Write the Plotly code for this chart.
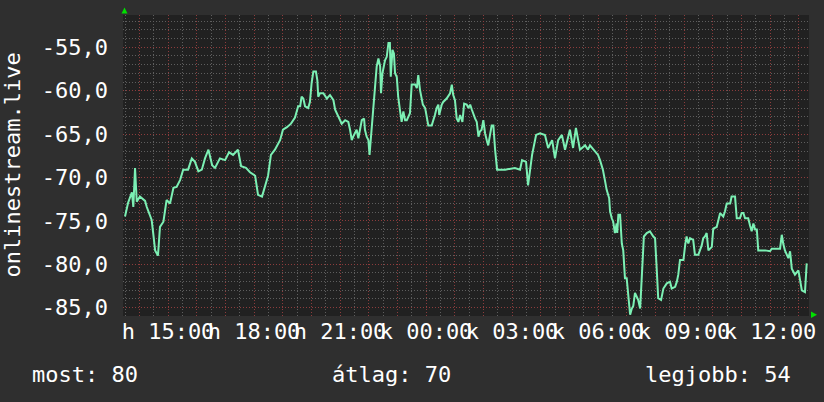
import plotly.graph_objects as go

# ---- data (time in hours since day-1 00:00, value in dBm-like units) ----
hours = [13.50, 13.61, 13.74, 13.79, 13.85, 13.91, 14.02, 14.20, 14.26, 14.37,
         14.43, 14.49, 14.55, 14.65, 14.72, 14.84, 14.95, 15.07, 15.19, 15.30,
         15.42, 15.53, 15.70, 15.83, 15.94, 16.06, 16.18, 16.29, 16.41, 16.54,
         16.64, 16.81, 16.99, 17.13, 17.27, 17.44, 17.55, 17.72, 17.86, 18.04,
         18.14, 18.28, 18.38, 18.49, 18.59, 18.73, 18.91, 19.01, 19.15, 19.29,
         19.43, 19.54, 19.61, 19.66, 19.72, 19.78, 19.89, 19.95, 20.01, 20.07,
         20.16, 20.21, 20.24, 20.30, 20.42, 20.54, 20.65, 20.77, 20.83, 20.89,
         20.94, 21.00, 21.06, 21.18, 21.29, 21.35, 21.41, 21.46, 21.58, 21.64,
         21.70, 21.76, 21.84, 21.87, 21.93, 21.99, 22.03, 22.11, 22.16, 22.22,
         22.28, 22.34, 22.40, 22.43, 22.48, 22.57, 22.63, 22.69, 22.74, 22.77,
         22.83, 22.88, 22.92, 22.98, 23.03, 23.09, 23.15, 23.21, 23.27, 23.33,
         23.44, 23.50, 23.62, 23.68, 23.73, 23.79, 23.89, 23.97, 24.02, 24.08,
         24.20, 24.26, 24.31, 24.37, 24.43, 24.46, 24.55, 24.60, 24.72, 24.84,
         24.90, 24.95, 25.01, 25.07, 25.13, 25.19, 25.27, 25.33, 25.42, 25.48,
         25.54, 25.60, 25.65, 25.71, 25.77, 25.83, 25.88, 25.94, 26.00, 26.06,
         26.12, 26.17, 26.29, 26.35, 26.41, 26.48, 26.76, 27.10, 27.28, 27.35,
         27.49, 27.56, 27.70, 27.84, 27.98, 28.15, 28.26, 28.40, 28.50, 28.61,
         28.74, 28.85, 29.02, 29.13, 29.23, 29.37, 29.55, 29.65, 29.72, 29.86,
         30.00, 30.07, 30.17, 30.24, 30.30, 30.39, 30.42, 30.48, 30.53, 30.59,
         30.65, 30.67, 30.71, 30.77, 30.83, 30.88, 30.94, 31.00, 31.06, 31.12,
         31.18, 31.23, 31.29, 31.35, 31.40, 31.47, 31.52, 31.56, 31.60, 31.70,
         31.81, 31.93, 31.99, 32.05, 32.10, 32.20, 32.28, 32.40, 32.51, 32.57,
         32.69, 32.75, 32.80, 32.86, 32.98, 33.04, 33.09, 33.15, 33.21, 33.32,
         33.38, 33.50, 33.56, 33.62, 33.67, 33.73, 33.79, 33.85, 33.97, 34.02,
         34.14, 34.20, 34.26, 34.37, 34.43, 34.49, 34.61, 34.66, 34.78, 34.84,
         34.95, 35.01, 35.07, 35.13, 35.24, 35.30, 35.36, 35.42, 35.48, 35.54,
         35.59, 35.71, 35.83, 36.00, 36.06, 36.35, 36.41, 36.46, 36.52, 36.64,
         36.70, 36.76, 36.87, 36.99, 37.05, 37.11, 37.22, 37.28]

values = [-74.5, -72.9, -71.7, -73.4, -68.9, -72.8, -72.2, -72.7, -73.4, -74.5,
          -74.9, -76.6, -78.4, -79.0, -75.7, -75.1, -72.6, -73.0, -71.2, -71.1,
          -70.3, -69.1, -69.1, -67.8, -68.2, -69.3, -69.1, -67.8, -66.8, -68.6,
          -68.9, -67.8, -68.0, -67.1, -67.4, -66.8, -68.7, -68.9, -69.4, -69.8,
          -72.0, -72.2, -70.9, -69.8, -67.4, -66.8, -65.7, -64.5, -64.2, -63.8,
          -63.1, -61.8, -61.8, -60.7, -60.9, -61.8, -62.0, -61.3, -59.1, -57.8,
          -57.8, -58.8, -60.7, -60.3, -60.3, -60.9, -60.5, -61.1, -62.2, -62.6,
          -63.0, -63.4, -63.8, -63.4, -63.6, -64.5, -65.7, -65.3, -64.5, -65.5,
          -64.5, -63.4, -63.2, -64.5, -65.3, -65.7, -67.4, -64.1, -62.2, -59.9,
          -57.2, -56.3, -57.2, -60.3, -58.0, -56.5, -56.1, -54.5, -54.5, -58.4,
          -55.3, -55.7, -58.0, -58.4, -60.7, -62.2, -63.6, -62.4, -63.4, -63.4,
          -62.6, -59.3, -59.3, -59.7, -58.2, -59.9, -61.6, -62.0, -63.0, -64.0,
          -64.0, -63.4, -62.8, -62.0, -61.6, -62.8, -61.6, -61.3, -60.9, -60.3,
          -59.3, -60.5, -61.1, -63.2, -63.6, -62.8, -63.6, -61.5, -61.6, -62.0,
          -61.6, -62.2, -62.8, -63.2, -63.6, -65.3, -64.7, -64.5, -63.4, -64.9,
          -65.7, -66.3, -64.0, -64.0, -66.8, -69.1, -69.1, -68.9, -69.1, -68.0,
          -68.2, -70.9, -67.4, -65.1, -64.9, -65.1, -66.6, -65.7, -67.8, -65.7,
          -65.1, -66.8, -64.5, -66.6, -64.3, -66.8, -66.3, -66.8, -66.3, -66.8,
          -67.4, -68.0, -69.1, -70.3, -71.4, -72.4, -73.9, -74.7, -75.1, -76.4,
          -75.3, -76.4, -74.3, -74.3, -77.6, -78.4, -81.6, -81.6, -83.5, -85.8,
          -85.1, -84.8, -83.3, -83.7, -84.1, -85.1, -81.4, -78.7, -76.8, -76.4,
          -76.2, -76.8, -77.0, -80.7, -83.9, -84.1, -82.8, -82.2, -82.0, -82.8,
          -82.6, -82.0, -81.2, -79.5, -79.5, -77.8, -76.8, -77.6, -77.0, -77.2,
          -78.9, -78.9, -78.4, -77.8, -77.0, -76.8, -76.4, -78.4, -78.0, -75.9,
          -75.7, -74.7, -74.1, -74.5, -73.9, -73.0, -73.0, -72.2, -72.2, -74.7,
          -74.7, -74.1, -74.1, -74.7, -74.7, -75.5, -76.2, -75.3, -76.0, -76.0,
          -78.4, -78.4, -78.4, -78.5, -78.2, -78.2, -76.6, -77.6, -78.4, -79.3,
          -78.5, -80.5, -81.2, -80.7, -81.8, -83.0, -83.2, -79.9]

x_label_hours = [15, 18, 21, 24, 27, 30, 33, 36]
x_labels = ["h 15:00", "h 18:00", "h 21:00", "k 00:00",
            "k 03:00", "k 06:00", "k 09:00", "k 12:00"]
grid_hours = list(range(14, 38))
y_ticks = [-85, -80, -75, -70, -65, -60, -55]
y_title = "onlinestream.live"
legend_texts = ["most: 80", "átlag: 70", "legjobb: 54"]

x_range = [13.43, 37.36]
y_range = [-85.96, -51.28]

# ---- styling ----
FONT = "DejaVu Sans Mono"
BG = "#2f2f2f"
PLOT_BG = "#212121"
LINE = "#7cf0b4"
MAJOR = "#8c3c3c"
MINOR = "#5e5e5e"
W, H = 824, 402
L, R, T, B = 123, 15, 15, 86
PW, PH = W - L - R, H - T - B

label_map = dict(zip(x_label_hours, x_labels))
ticktext_x = [label_map.get(h, "") for h in grid_hours]
ticktext_y = [f"{v:.1f}".replace(".", ",") for v in y_ticks]

fig = go.Figure()
fig.add_trace(go.Scatter(x=hours, y=values, mode="lines",
                         line=dict(color=LINE, width=2), hoverinfo="skip",
                         showlegend=False))

fig.update_layout(
    width=W, height=H,
    margin=dict(l=L, r=R, t=T, b=B, pad=0, autoexpand=False),
    paper_bgcolor=BG, plot_bgcolor=PLOT_BG,
    font=dict(family=FONT, size=22, color="#ffffff"),
    showlegend=False,
)

fig.update_xaxes(
    range=x_range, tickmode="array", tickvals=grid_hours, ticktext=ticktext_x,
    tickangle=0, showgrid=True, gridcolor=MAJOR, griddash="1px,2px", gridwidth=1,
    zeroline=False, showline=False, ticks="", ticklabelstandoff=0, automargin=False,
    tickfont=dict(family=FONT, size=22, color="#ffffff"),
    minor=dict(tickmode="linear", tick0=0, dtick=0.5, showgrid=True,
               gridcolor=MINOR, griddash="1px,2px", gridwidth=1, ticks=""),
)
fig.update_yaxes(
    range=y_range, tickmode="array", tickvals=y_ticks, ticktext=ticktext_y,
    showgrid=True, gridcolor=MAJOR, griddash="1px,2px", gridwidth=1,
    zeroline=False, showline=False, ticks="", ticklabelstandoff=14, automargin=False,
    tickfont=dict(family=FONT, size=22, color="#ffffff"),
    minor=dict(tickmode="linear", tick0=0, dtick=1, showgrid=True,
               gridcolor=MINOR, griddash="1px,2px", gridwidth=1, ticks=""),
)

def px2paper(px, py):
    return (px - L) / PW, (T + PH - py) / PH

# green axis arrows (decoration)
ax1 = [px2paper(121.5, 13.5), px2paper(127.5, 13.5), px2paper(124.5, 7.5)]
ax2 = [px2paper(811, 311.5), px2paper(811, 318), px2paper(817, 314.8)]
for tri in (ax1, ax2):
    path = "M {} {} L {} {} L {} {} Z".format(*[c for p in tri for c in p])
    fig.add_shape(type="path", path=path, xref="paper", yref="paper",
                  fillcolor="#00e000", line=dict(width=0), layer="above")

# rotated y title
fig.add_annotation(text=y_title, xref="paper", yref="paper", x=0, y=0.5,
                   xshift=-(L - 12), textangle=-90, showarrow=False,
                   xanchor="center", yanchor="middle",
                   font=dict(family=FONT, size=22, color="#ffffff"))

# bottom legend line
fig.add_annotation(text=legend_texts[0], xref="paper", yref="paper", x=0, y=0,
                   xshift=30 - L, yshift=-58, xanchor="left", yanchor="middle",
                   showarrow=False, font=dict(family=FONT, size=22, color="#ffffff"))
fig.add_annotation(text=legend_texts[1], xref="paper", yref="paper", x=0, y=0,
                   xshift=391 - L, yshift=-58, xanchor="center", yanchor="middle",
                   showarrow=False, font=dict(family=FONT, size=22, color="#ffffff"))
fig.add_annotation(text=legend_texts[2], xref="paper", yref="paper", x=1, y=0,
                   xshift=793 - (L + PW), yshift=-58, xanchor="right", yanchor="middle",
                   showarrow=False, font=dict(family=FONT, size=22, color="#ffffff"))

fig.write_html(
    "out.html",
    config={"displayModeBar": False},
    post_script="document.body.style.margin='0';document.body.style.overflow='hidden';",
)
